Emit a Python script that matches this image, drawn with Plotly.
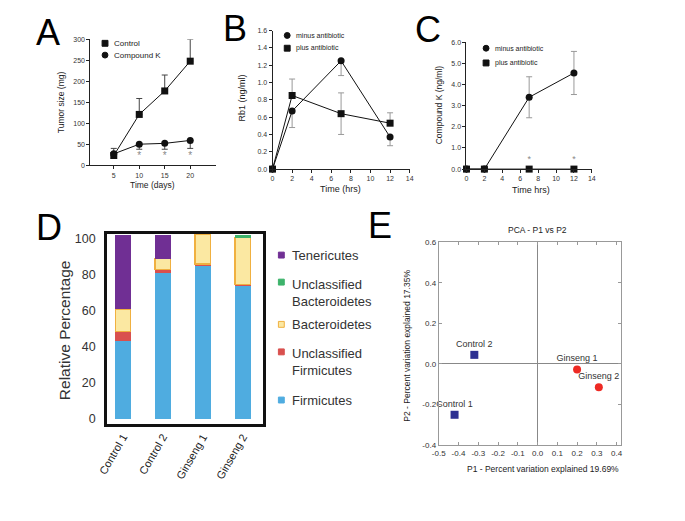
import plotly.graph_objects as go

W, H = 685, 521
def fx(p): return p / W
def fy(p): return 1 - p / H

FONT = "Liberation Sans, Arial, sans-serif"

# ---------------- Panel A data ----------------
a_days = [5, 10, 15, 20]
a_control = [23, 121, 177, 248]
a_control_err = [17, 38, 38, 52]
a_ck = [27, 50, 52, 59]
a_ck_err = [4, 12, 14, 19]
a_sig_days = [10, 15, 20]
a_sig_y = [21, 21, 21]
a_legend = ["Control", "Compound K"]

# ---------------- Panel B data ----------------
b_hours = [0, 2, 7, 12]
b_minus = [0, 0.67, 1.25, 0.37]
b_minus_up = [0, 0, 0, 0]
b_minus_down = [0, 0.19, 0.17, 0.10]
b_plus = [0, 0.85, 0.64, 0.53]
b_plus_up = [0, 0.19, 0.24, 0.12]
b_plus_down = [0, 0, 0.24, 0]
b_legend = ["minus antibiotic", "plus antibiotic"]

# ---------------- Panel C data ----------------
c_hours = [0, 2, 7, 12]
c_minus = [0, 0, 3.4, 4.55]
c_minus_err = [0, 0, 0.97, 1.02]
c_plus = [0, 0, 0, 0]
c_sig_hours = [7, 12]
c_sig_y = [0.22, 0.22]
c_legend = ["minus antibiotic", "plus antibiotic"]

# ---------------- Panel D data ----------------
d_samples = ["Control 1", "Control 2", "Ginseng 1", "Ginseng 2"]
d_firmicutes = [43, 81, 85, 74.3]
d_uncl_firmicutes = [5.6, 2, 1, 0.3]
d_bacteroidetes = [12.4, 6, 16.4, 26]
d_uncl_bacteroidetes = [0, 0, 0, 1.4]
d_tenericutes = [41, 13, 0, 0]
d_legend = ["Tenericutes", "Unclassified<br>Bacteroidetes", "Bacteroidetes",
            "Unclassified<br>Firmicutes", "Firmicutes"]

# ---------------- Panel E data ----------------
e_control_names = ["Control 1", "Control 2"]
e_control_p1 = [-0.42, -0.32]
e_control_p2 = [-0.25, 0.045]
e_ginseng_names = ["Ginseng 1", "Ginseng 2"]
e_ginseng_p1 = [0.20, 0.31]
e_ginseng_p2 = [-0.027, -0.115]
e_xticks = [-0.5, -0.4, -0.3, -0.2, -0.1, 0.0, 0.1, 0.2, 0.3, 0.4]
e_yticks = [-0.4, -0.2, 0.0, 0.2, 0.4, 0.6]

fig = go.Figure()

# ---- A ----
fig.add_trace(go.Scatter(
    x=a_days, y=a_control, mode="lines+markers", xaxis="x", yaxis="y",
    line=dict(color="#111", width=1),
    marker=dict(symbol="square", size=7, color="#111"),
    error_y=dict(type="data", symmetric=False, array=a_control_err,
                 arrayminus=[0] * len(a_days), color="#444", thickness=1, width=3),
    cliponaxis=False, showlegend=False))
fig.add_trace(go.Scatter(
    x=a_days, y=a_ck, mode="lines+markers", xaxis="x", yaxis="y",
    line=dict(color="#111", width=1),
    marker=dict(symbol="circle", size=7, color="#111"),
    error_y=dict(type="data", symmetric=False, array=[0] * len(a_days),
                 arrayminus=a_ck_err, color="#444", thickness=1, width=3),
    cliponaxis=False, showlegend=False))
fig.add_trace(go.Scatter(
    x=a_sig_days, y=a_sig_y, mode="text", text=["*"] * len(a_sig_days),
    textfont=dict(size=10, color="#888", family=FONT), xaxis="x", yaxis="y",
    cliponaxis=False, showlegend=False))

# ---- B ----
fig.add_trace(go.Scatter(
    x=b_hours, y=b_minus, mode="lines+markers", xaxis="x2", yaxis="y2",
    line=dict(color="#111", width=1),
    marker=dict(symbol="circle", size=7, color="#111"),
    error_y=dict(type="data", symmetric=False, array=b_minus_up,
                 arrayminus=b_minus_down, color="#999", thickness=1, width=3),
    cliponaxis=False, showlegend=False))
fig.add_trace(go.Scatter(
    x=b_hours, y=b_plus, mode="lines+markers", xaxis="x2", yaxis="y2",
    line=dict(color="#111", width=1),
    marker=dict(symbol="square", size=7, color="#111"),
    error_y=dict(type="data", symmetric=False, array=b_plus_up,
                 arrayminus=b_plus_down, color="#999", thickness=1, width=3),
    cliponaxis=False, showlegend=False))

# ---- C ----
fig.add_trace(go.Scatter(
    x=c_hours, y=c_minus, mode="lines+markers", xaxis="x3", yaxis="y3",
    line=dict(color="#111", width=1),
    marker=dict(symbol="circle", size=7, color="#111"),
    error_y=dict(type="data", array=c_minus_err, color="#999", thickness=1, width=3),
    cliponaxis=False, showlegend=False))
fig.add_trace(go.Scatter(
    x=c_hours, y=c_plus, mode="lines+markers", xaxis="x3", yaxis="y3",
    line=dict(color="#111", width=1),
    marker=dict(symbol="square", size=7, color="#111"),
    cliponaxis=False, showlegend=False))
fig.add_trace(go.Scatter(
    x=c_sig_hours, y=c_sig_y, mode="text", text=["*"] * len(c_sig_hours),
    textposition="top center",
    textfont=dict(size=9, color="#888", family=FONT), xaxis="x3", yaxis="y3",
    cliponaxis=False, showlegend=False))

# ---- D ----
d_series = [
    (d_firmicutes, "#4FACE0", "#4FACE0", 0),
    (d_uncl_firmicutes, "#D9504E", "#D9504E", 0),
    (d_bacteroidetes, "#FBE8A2", "#F0B040", 1.2),
    (d_uncl_bacteroidetes, "#3DB36B", "#3DB36B", 0),
    (d_tenericutes, "#702F94", "#702F94", 0),
]
for vals, col, lcol, lw in d_series:
    fig.add_trace(go.Bar(
        x=d_samples, y=vals, xaxis="x4", yaxis="y4", width=0.39,
        marker=dict(color=col, line=dict(color=lcol, width=lw)),
        showlegend=False))

# ---- E ----
fig.add_trace(go.Scatter(
    x=e_control_p1, y=e_control_p2, mode="markers+text", text=e_control_names,
    textposition="top center", textfont=dict(size=9, color="#333", family=FONT),
    marker=dict(symbol="square", size=8, color="#2E3192"),
    xaxis="x5", yaxis="y5", showlegend=False, cliponaxis=False))
fig.add_trace(go.Scatter(
    x=e_ginseng_p1, y=e_ginseng_p2, mode="markers+text", text=e_ginseng_names,
    textposition="top center", textfont=dict(size=9, color="#333", family=FONT),
    marker=dict(symbol="circle", size=8, color="#EE2A24"),
    xaxis="x5", yaxis="y5", showlegend=False, cliponaxis=False))

small_axis = dict(showline=True, linecolor="#222", linewidth=1, ticks="outside",
                  ticklen=3, tickcolor="#222", showgrid=False, zeroline=False,
                  tickfont=dict(size=7, color="#333", family=FONT))

layout = dict(
    width=W, height=H, margin=dict(l=0, r=0, t=0, b=0),
    paper_bgcolor="white", plot_bgcolor="white", barmode="stack",
    font=dict(family=FONT),
    xaxis=dict(domain=[fx(82), fx(210)], range=[0.4, 25], anchor="y",
               tickvals=a_days, **small_axis),
    yaxis=dict(domain=[fy(164), fy(36)], range=[0, 300], anchor="x",
               dtick=50, **small_axis),
    xaxis2=dict(domain=[fx(268), fx(408)], range=[0, 14], anchor="y2",
                dtick=2, **small_axis),
    yaxis2=dict(domain=[fy(168), fy(27)], range=[0, 1.6], anchor="x2",
                dtick=0.2, tickformat=".1f", **small_axis),
    xaxis3=dict(domain=[fx(466), fx(594)], range=[0, 14], anchor="y3",
                dtick=2, **small_axis),
    yaxis3=dict(domain=[fy(168), fy(39)], range=[0, 6], anchor="x3",
                dtick=1, tickformat=".1f", **small_axis),
    xaxis4=dict(domain=[fx(99), fx(258)], range=[-0.4, 3.5], anchor="y4",
                showline=True, linecolor="#111", linewidth=2.5, mirror=True,
                ticks="", tickangle=-60, showgrid=False, zeroline=False,
                tickfont=dict(size=11, color="#222", family=FONT)),
    yaxis4=dict(domain=[fy(427), fy(234)], range=[-2.7, 102.7], anchor="x4",
                showline=True, linecolor="#111", linewidth=2.5, mirror=True,
                ticks="", dtick=20, showgrid=False, zeroline=False,
                ticklabelstandoff=6,
                tickfont=dict(size=12.5, color="#333", family=FONT)),
    xaxis5=dict(domain=[fx(437.7), fx(623.3)], range=[-0.5, 0.42], anchor="y5",
                showline=True, linecolor="#999", linewidth=1, mirror="allticks",
                ticks="inside", ticklen=3, tickcolor="#999", showgrid=False,
                zeroline=True, zerolinecolor="#888", zerolinewidth=1,
                tickvals=e_xticks, ticktext=[f"{v:.1f}" for v in e_xticks],
                tickfont=dict(size=8, color="#333", family=FONT)),
    yaxis5=dict(domain=[fy(449), fy(242.3)], range=[-0.4, 0.6], anchor="x5",
                showline=True, linecolor="#999", linewidth=1, mirror="allticks",
                ticks="inside", ticklen=3, tickcolor="#999", showgrid=False,
                zeroline=True, zerolinecolor="#888", zerolinewidth=1,
                tickvals=e_yticks, ticktext=[f"{v:.1f}" for v in e_yticks],
                tickfont=dict(size=8, color="#333", family=FONT)),
)

annotations = []
def txt(t, x, y, size, angle=0, xanchor="center", color="#222"):
    annotations.append(dict(text=t, x=fx(x), y=fy(y), xref="paper", yref="paper",
                            showarrow=False, textangle=angle, xanchor=xanchor,
                            yanchor="middle", align="left",
                            font=dict(size=size, color=color, family=FONT)))

# panel letters
for letter, lx, ly in [("A", 38.5, 28.5), ("B", 230, 24.5), ("C", 426.5, 25.5),
                       ("D", 40, 227), ("E", 377.5, 225.5)]:
    txt(letter, lx, ly, 36, color="#000")

# axis titles
txt("Tumor size (mg)", 52, 100, 8.5, -90)
txt("Time (days)", 145, 184, 8.5)
txt("Rb1 (ng/ml)", 237, 96, 9, -90)
txt("Time (hrs)", 337, 188, 9)
txt("Compound K (ng/ml)", 438, 103, 8.5, -90)
txt("Time hrs)", 532, 189, 9)
txt("Relative Percentage", 55, 332, 15.5, -90, color="#333")
txt("PCA - P1 vs P2", 539, 230, 8.5)
txt("P1 - Percent variation explained 19.69%", 544, 473, 8.5)
txt("P2 - Percent variation explained 17.35%", 405, 348, 8.5, -90)

shapes = []
def key(x, y, symbol, size, fill, line=None):
    h = size / 2
    shapes.append(dict(type="rect" if symbol == "square" else "circle",
                       xref="paper", yref="paper",
                       x0=fx(x - h), x1=fx(x + h), y0=fy(y + h), y1=fy(y - h),
                       fillcolor=fill, line=dict(color=line or fill, width=1)))

# legend A
for label, sym, ly in zip(a_legend, ["square", "circle"], [40, 52]):
    key(97, ly, sym, 6, "#111")
    txt(label, 104, ly, 8, xanchor="left")
# legend B
for label, sym, ly in zip(b_legend, ["circle", "square"], [32, 45]):
    key(283, ly, sym, 6, "#111")
    txt(label, 290, ly, 7, xanchor="left")
# legend C
for label, sym, ly in zip(c_legend, ["circle", "square"], [45, 60]):
    key(486, ly, sym, 6, "#111")
    txt(label, 493, ly, 7, xanchor="left")
# legend D (top to bottom: reverse of stack order)
d_leg_style = list(reversed(d_series))
d_key_y = [255.5, 283, 326, 354, 403]
d_text_y = [255.5, 294.5, 326, 364, 403]
for label, (vals, col, lcol, lw), ky, ty in zip(d_legend, d_leg_style, d_key_y, d_text_y):
    key(277, ky, "square", 6, col, lcol)
    txt(label, 286, ty, 13, xanchor="left", color="#333")

layout["annotations"] = annotations
layout["shapes"] = shapes
fig.update_layout(**layout)

fig.write_html("out.html", config={"displayModeBar": False},
               post_script="document.body.style.margin='0px';")
